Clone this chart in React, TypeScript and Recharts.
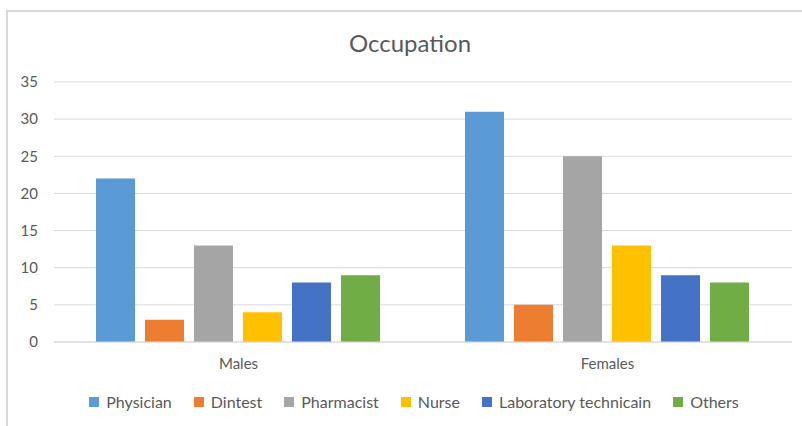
import React from "react";
import { BarChart, Bar, XAxis, YAxis, CartesianGrid, Legend } from "recharts";

const categories = ["Males", "Females"];
const seriesNames = ["Physician", "Dintest", "Pharmacist", "Nurse", "Laboratory technicain", "Others"];
const physician = [22, 31];
const dintest = [3, 5];
const pharmacist = [13, 25];
const nurse = [4, 13];
const labTech = [8, 9];
const others = [9, 8];
const yTicks = [0, 5, 10, 15, 20, 25, 30, 35];
const colors = ["#5B9BD5", "#ED7D31", "#A5A5A5", "#FFC000", "#4472C4", "#70AD47"];

const seriesValues = [physician, dintest, pharmacist, nurse, labTech, others];
const data = categories.map((c, i) => {
  const row: Record<string, any> = { name: c };
  seriesNames.forEach((s, k) => {
    row[s] = seriesValues[k][i];
  });
  return row;
});

const FONT = "Lato, 'Open Sans', sans-serif";

const renderLegend = () => (
  <div style={{ display: "flex", justifyContent: "center", alignItems: "center", fontFamily: FONT, fontSize: 16, color: "#595959", paddingLeft: 36 }}>
    {seriesNames.map((s, k) => (
      <div key={s} style={{ display: "flex", alignItems: "center", marginRight: k < seriesNames.length - 1 ? 22 : 0 }}>
        <span style={{ display: "inline-block", width: 10, height: 10, background: colors[k], marginRight: 7 }} />
        <span>{s}</span>
      </div>
    ))}
  </div>
);

export default function App() {
  return (
    <div style={{ position: "absolute", left: 0, top: 0, width: 802, height: 426, overflow: "hidden", background: "#fff", fontFamily: FONT }}>
      <div style={{ position: "absolute", left: 6, top: 10, width: 820, height: 440, borderLeft: "2px solid #d9d9d9", borderTop: "2px solid #d9d9d9", boxSizing: "border-box" }} />
      <div style={{ position: "absolute", left: 0, width: 820, top: 28, textAlign: "center", fontSize: 24, color: "#595959" }}>
        Occupation
      </div>
      <div style={{ position: "absolute", left: 0, top: 0 }}>
        <BarChart
          width={802}
          height={426}
          data={data}
          margin={{ top: 82, right: 10, left: 0, bottom: 15 }}
          barCategoryGap={42}
          barGap={10}
        >
          <CartesianGrid vertical={false} stroke="#d9d9d9" strokeWidth={1} />
          <XAxis
            dataKey="name"
            axisLine={{ stroke: "#d9d9d9" }}
            tickLine={false}
            tickMargin={10}
            height={50}
            tick={{ fill: "#595959", fontSize: 15, fontFamily: FONT }}
          />
          <YAxis
            domain={[0, 35]}
            ticks={yTicks}
            width={54}
            axisLine={false}
            tickLine={false}
            tickMargin={10}
            tick={{ fill: "#595959", fontSize: 15, fontFamily: FONT }}
          />
          <Legend verticalAlign="bottom" align="center" content={renderLegend} />
          {seriesNames.map((s, k) => (
            <Bar key={s} dataKey={s} fill={colors[k]} isAnimationActive={false} />
          ))}
        </BarChart>
      </div>
    </div>
  );
}
